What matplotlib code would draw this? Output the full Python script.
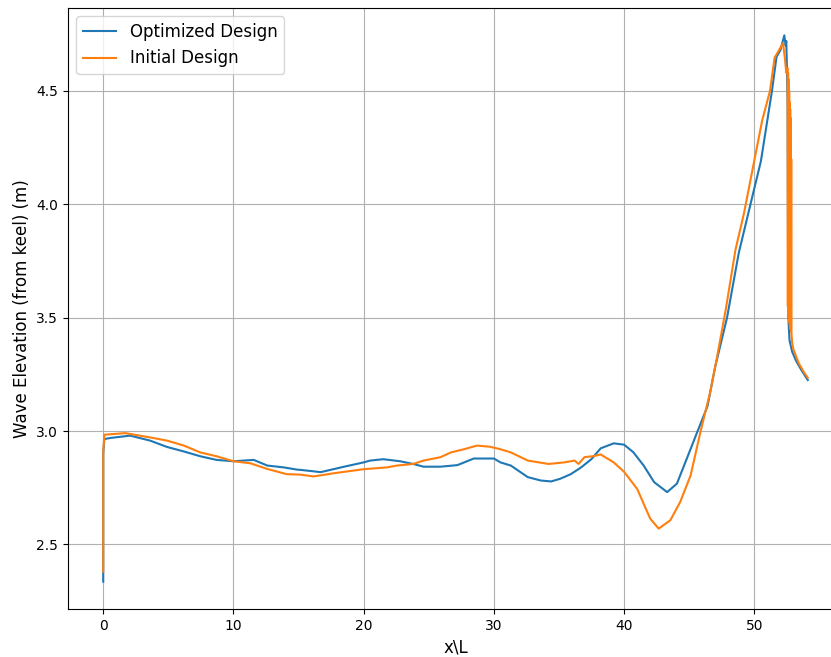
import numpy as np
import matplotlib
matplotlib.use('Agg')
import matplotlib.pyplot as plt

# wave elevation along the hull, x in ship lengths
x_opt = [0.0, 0.0, 0.08, 0.6, 2.07, 3.6, 4.9, 6.2, 7.45, 8.7, 10.0, 11.55, 12.6, 13.85,
         14.9, 15.15, 16.7, 18.5, 20.0, 20.5, 21.5, 22.8, 23.8, 24.6, 25.9, 27.2, 28.45,
         30.0, 30.5, 31.3, 32.6, 33.6, 34.4, 35.1, 35.9, 36.7, 37.5, 38.2, 39.2, 40.0,
         40.7, 41.5, 42.3, 43.3, 44.05, 44.8, 45.6, 46.4, 47.0, 47.9, 48.8, 49.7, 50.5,
         51.35, 51.7, 52.0, 52.3, 52.4, 52.45, 52.5, 52.55, 52.58, 52.6, 52.65, 52.7,
         52.9, 53.2, 53.6, 54.1]
y_opt = [2.336, 2.90, 2.965, 2.97, 2.98, 2.958, 2.93, 2.91, 2.889, 2.873, 2.867, 2.873,
         2.848, 2.84, 2.83, 2.829, 2.819, 2.843, 2.862, 2.87, 2.876, 2.867, 2.855, 2.843,
         2.843, 2.85, 2.879, 2.879, 2.862, 2.848, 2.797, 2.782, 2.778, 2.79, 2.81, 2.84,
         2.877, 2.924, 2.946, 2.94, 2.907, 2.848, 2.775, 2.731, 2.768, 2.877, 2.994, 3.11,
         3.286, 3.50, 3.785, 4.0, 4.19, 4.5, 4.65, 4.68, 4.745, 4.70, 4.72, 4.60, 4.45,
         3.9, 3.52, 3.45, 3.40, 3.35, 3.31, 3.27, 3.225]

x_init = [0.0, 0.0, 0.08, 1.7, 3.6, 4.9, 6.2, 7.45, 8.7, 10.0, 11.3, 12.6, 14.1, 15.15,
          16.15, 17.7, 20.0, 21.8, 22.55, 23.8, 24.6, 25.9, 26.7, 27.7, 28.7, 29.7, 30.5,
          31.3, 32.6, 34.2, 35.4, 36.2, 36.5, 36.95, 37.7, 38.2, 39.2, 40.0, 41.0, 42.0,
          42.65, 43.55, 44.3, 45.1, 45.85, 46.6, 47.1, 47.8, 48.55, 49.2, 49.95, 50.6,
          51.2, 51.55, 52.2, 52.35, 52.45, 52.55,
          52.57, 52.59, 52.61, 52.63, 52.65, 52.67, 52.69, 52.71, 52.73, 52.75,
          52.77, 52.79, 52.81, 52.83, 52.85,
          52.9, 53.0, 53.4, 53.8, 54.1]
y_init = [2.38, 2.90, 2.984, 2.991, 2.972, 2.958, 2.936, 2.906, 2.889, 2.867, 2.858,
          2.833, 2.81, 2.808, 2.80, 2.814, 2.832, 2.84, 2.848, 2.855, 2.87, 2.885, 2.906,
          2.92, 2.936, 2.931, 2.92, 2.906, 2.87, 2.855, 2.862, 2.87, 2.855, 2.885, 2.89,
          2.897, 2.862, 2.82, 2.745, 2.614, 2.57, 2.607, 2.687, 2.804, 2.994, 3.17, 3.316,
          3.535, 3.80, 3.96, 4.18, 4.37, 4.5, 4.646, 4.71, 4.64, 4.58, 4.60,
          3.55, 4.58, 3.52, 4.55, 3.50, 4.50, 3.48, 4.45, 3.46, 4.42,
          3.45, 4.38, 3.44, 4.20, 3.43,
          3.39, 3.36, 3.30, 3.26, 3.235]

fig = plt.figure(figsize=(8.31, 6.57), dpi=100)
ax = fig.add_axes([68 / 831, 48 / 657, 775 / 831, 601 / 657])

ax.plot(x_opt, y_opt, label='Optimized Design')
ax.plot(x_init, y_init, label='Initial Design')

ax.set_xlabel('x\\L', fontsize=12)
ax.set_ylabel('Wave Elevation (from keel) (m)', fontsize=12)
ax.grid(True)
ax.legend(loc='upper left', fontsize=12)

fig.savefig('out.png', dpi=100)
